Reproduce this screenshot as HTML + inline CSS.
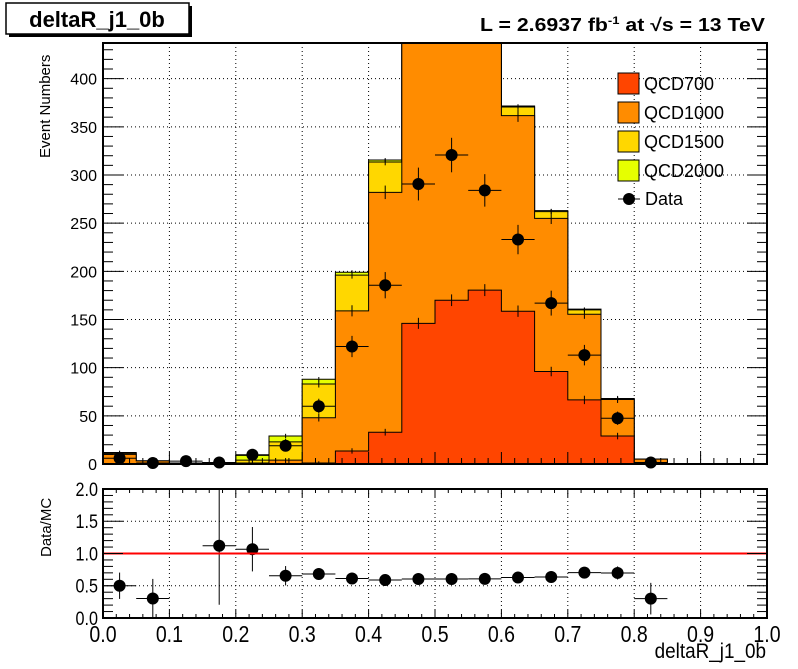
<!DOCTYPE html>
<html><head><meta charset="utf-8"><style>
html,body{margin:0;padding:0;background:#fff;}
svg{display:block;font-family:"Liberation Sans",sans-serif;}
</style></head><body>
<svg id="chart" width="798" height="669" viewBox="0 0 798 669" xmlns="http://www.w3.org/2000/svg">
<rect x="0" y="0" width="798" height="669" fill="#fff"/>
<g id="grid"></g>
<g id="stack"></g>
<g id="errs"></g>
<g id="data"></g>
<g id="ratio"></g>
<g id="axes"></g>
<rect x="9" y="6" width="183" height="31" fill="#000"/>
<rect x="6" y="3" width="183" height="31" fill="#fff" stroke="#000" stroke-width="1.5"/>
<text x="97" y="27" text-anchor="middle" font-size="22" font-weight="bold">deltaR_j1_0b</text>
<text x="480" y="31" font-size="18" font-weight="bold" textLength="285" lengthAdjust="spacingAndGlyphs">L = 2.6937 fb<tspan dy="-7" font-size="11">-1</tspan><tspan dy="7"> at  </tspan><tspan>√s = 13 TeV</tspan></text>
<text transform="translate(50,158) rotate(-90)" font-size="15">Event Numbers</text>
<text transform="translate(51,557) rotate(-90)" font-size="15">Data/MC</text>
<text x="766" y="658" text-anchor="end" font-size="21" transform="translate(766,0) scale(0.9,1) translate(-766,0)">deltaR_j1_0b</text>
<g id="legend"></g>
</svg>
<script>
const edges0 = 0, binW = 0.05;
const qcd700  = [0,0,0,0,0,0.5,1,13.5,33,146,170,180.5,158.6,96,66.5,29,0,0,0,0];
const qcd1000 = [10,3.3,1,1.34,1,3.5,47,145.5,249,330,356,284,203,159,89,38,5,0,0,0];
const qcd1500 = [1,0,0,0,3,19,35,37,31.5,4,4,3,9,7,4.5,0.5,0,0,0,0];
const qcd2000 = [1,0,0,0,5,6,5,3,2,1,1,1,1,1,0.7,0.5,0,0,0,0];
const dataVals = [6,1,3,1.5,9.6,19,60,122,185.6,290.6,320.7,284,233,167,113,47.5,1.5,0,0,0];
const yTicks = [0,50,100,150,200,250,300,350,400];
const rTicks = [0,0.5,1.0,1.5,2.0];
const xTicks = [0,0.1,0.2,0.3,0.4,0.5,0.6,0.7,0.8,0.9,1.0];
const legendNames = ["QCD700","QCD1000","QCD1500","QCD2000"];
const colors = ["#ff4500","#ff8c00","#ffd700","#e6ff00"];

const NS="http://www.w3.org/2000/svg";
const X0=103,X1=767,Y0=464,Ytop=43,YMAX=437, RY0=618,RY1=489;
const xs=v=>X0+(v/1.0)*(X1-X0);
const ys=v=>Y0-(v/YMAX)*(Y0-Ytop);
const rs=v=>RY0-(v/2.0)*(RY0-RY1);
function mk(tag,attrs,parent){const e=document.createElementNS(NS,tag);for(const k in attrs)e.setAttribute(k,attrs[k]);document.getElementById(parent).appendChild(e);return e;}
const clipY=v=>Math.max(Ytop,ys(v));

xTicks.forEach(t=>{if(t>0&&t<1){
 let g=mk('line',{x1:xs(t),x2:xs(t),y1:Ytop,y2:Y0,stroke:'#000','stroke-width':1,'stroke-dasharray':'1,3'},'grid');
 
 let g2=mk('line',{x1:xs(t),x2:xs(t),y1:RY1,y2:RY0,stroke:'#000','stroke-width':1,'stroke-dasharray':'1,3'},'grid');
 }});
yTicks.forEach(t=>{if(t>0){
 let g=mk('line',{x1:X0,x2:X1,y1:ys(t),y2:ys(t),stroke:'#000','stroke-width':1,'stroke-dasharray':'1,3'},'grid');
 }});
rTicks.forEach(t=>{if(t>0&&t<2){
 let g=mk('line',{x1:X0,x2:X1,y1:rs(t),y2:rs(t),stroke:'#000','stroke-width':1,'stroke-dasharray':'1,3'},'grid');
 }});

const layers=[qcd700,qcd1000,qcd1500,qcd2000];
const n=qcd700.length;
const cum=[];let run=new Array(n).fill(0);
layers.forEach(l=>{run=run.map((v,i)=>v+l[i]);cum.push(run.slice());});
for(let L=3;L>=0;L--){
 let d='M'+xs(0)+','+Y0;
 for(let i=0;i<n;i++){const a=xs(edges0+i*binW),b=xs(edges0+(i+1)*binW),y=clipY(cum[L][i]);d+=' L'+a+','+y+' L'+b+','+y;}
 d+=' L'+xs(1)+','+Y0+' Z';
 const p=mk('path',{d:d,fill:colors[L],stroke:'#000','stroke-width':1},'stack');
 
 
 for(let i=0;i<n;i++){const c=cum[L][i];if(layers[L][i]<=0)continue;const e=0.35*Math.sqrt(layers[L][i])+1.5;const cx=xs(edges0+(i+0.5)*binW);
  if(ys(c+e)<Ytop)continue;
  const el=mk('line',{x1:cx,x2:cx,y1:clipY(c+e),y2:ys(Math.max(0,c-e)),stroke:'#000','stroke-width':1},'errs');
  }
}
const mcTot=cum[3];
for(let i=0;i<n;i++){const v=dataVals[i];if(v<=0)continue;const cx=xs(edges0+(i+0.5)*binW),e=Math.sqrt(v);
 let l1=mk('line',{x1:cx,x2:cx,y1:clipY(v+e),y2:ys(Math.max(0,v-e)),stroke:'#000','stroke-width':1},'data');
 
 let l2=mk('line',{x1:xs(i*binW),x2:xs((i+1)*binW),y1:ys(v),y2:ys(v),stroke:'#000','stroke-width':1},'data');
 
 let c=mk('circle',{cx:cx,cy:ys(v),r:6,fill:'#000'},'data');
 
 if(mcTot[i]>0){const r=v/mcTot[i];if(r<=2){const re=Math.sqrt(v)/mcTot[i];
  let a=mk('line',{x1:cx,x2:cx,y1:rs(Math.min(2,r+re)),y2:rs(Math.max(0,r-re)),stroke:'#000','stroke-width':1},'ratio');
  
  let b=mk('line',{x1:xs(i*binW),x2:xs((i+1)*binW),y1:rs(r),y2:rs(r),stroke:'#000','stroke-width':1},'ratio');
  
  let p=mk('circle',{cx:cx,cy:rs(r),r:6,fill:'#000'},'ratio');
  }}
}
let rl=mk('line',{x1:X0,x2:X1,y1:rs(1),y2:rs(1),stroke:'#f00','stroke-width':2},'ratio');


let f1=mk('rect',{x:X0,y:Ytop,width:X1-X0,height:Y0-Ytop,fill:'none',stroke:'#000','stroke-width':2},'axes');

let f2=mk('rect',{x:X0,y:RY1,width:X1-X0,height:RY0-RY1,fill:'none',stroke:'#000','stroke-width':2},'axes');

for(let v=0;v<=YMAX;v+=10){const y=ys(v),len=(v%50===0)?20:10;
 mk('line',{x1:X0,x2:X0+len,y1:y,y2:y,stroke:'#000'},'axes');mk('line',{x1:X1,x2:X1-len,y1:y,y2:y,stroke:'#000'},'axes');}
yTicks.forEach(t=>{const tx=mk('text',{x:97,y:ys(t)+6,'text-anchor':'end','font-size':16},'axes');tx.textContent=t;
 });
for(let k=0;k<=20;k++){const v=k*0.1,y=rs(v),len=(k%5===0)?20:10;
 mk('line',{x1:X0,x2:X0+len,y1:y,y2:y,stroke:'#000'},'axes');mk('line',{x1:X1,x2:X1-len,y1:y,y2:y,stroke:'#000'},'axes');}
rTicks.forEach(t=>{const tx=mk('text',{x:98,y:rs(t)+7,'text-anchor':'end','font-size':19,transform:'translate(98,0) scale(0.85,1) translate(-98,0)'},'axes');tx.textContent=t.toFixed(1);
 });
for(let k=0;k<=50;k++){const v=k*0.02,x=xs(v),big=(k%5===0);
 mk('line',{x1:x,x2:x,y1:Y0,y2:Y0-(big?12:6),stroke:'#000'},'axes');
 mk('line',{x1:x,x2:x,y1:RY0,y2:RY0-(big?8:4),stroke:'#000'},'axes');
 mk('line',{x1:x,x2:x,y1:RY1,y2:RY1+(big?8:4),stroke:'#000'},'axes');}
xTicks.forEach(t=>{const x=xs(t);const tx=mk('text',{x:x,y:642,'text-anchor':'middle','font-size':23,transform:'translate('+x+',0) scale(0.85,1) translate('+(-x)+',0)'},'axes');tx.textContent=t.toFixed(1);
 });

legendNames.forEach((nm,i)=>{const y=73+i*29;
 const r=mk('rect',{x:618,y:y,width:21,height:21,fill:colors[i],stroke:'#000'},'legend');
 
 const t=mk('text',{x:644,y:y+17,'font-size':18},'legend');t.textContent=nm;
 });
mk('line',{x1:618,x2:640,y1:199,y2:199,stroke:'#000'},'legend');
const lc=mk('circle',{cx:629,cy:199,r:6,fill:'#000'},'legend');

const lt=mk('text',{x:645,y:205,'font-size':18},'legend');lt.textContent='Data';

</script>
</body></html>
